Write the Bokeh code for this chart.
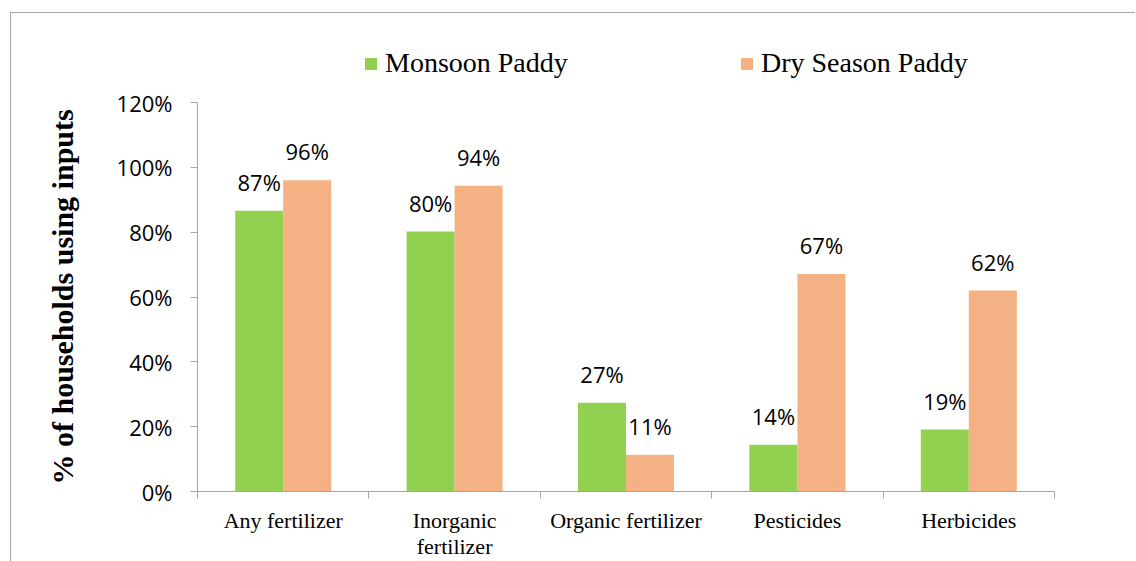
from bokeh.plotting import figure
from bokeh.models import (Range1d, FixedTicker, NumeralTickFormatter, ColumnDataSource,
                          LabelSet, Legend, LegendItem, Title)
from bokeh.core.properties import value
from bokeh.transform import dodge
from bokeh.embed import file_html
from bokeh.resources import INLINE

# ---- data ----
categories = ["Any fertilizer", "Inorganic\nfertilizer", "Organic fertilizer", "Pesticides", "Herbicides"]
monsoon = [0.866, 0.802, 0.274, 0.144, 0.191]
dry = [0.960, 0.943, 0.113, 0.671, 0.620]
monsoon_labels = ["87%", "80%", "27%", "14%", "19%"]
dry_labels = ["96%", "94%", "11%", "67%", "62%"]
series_names = ["Monsoon Paddy", "Dry Season Paddy"]
y_ticks = [0, 0.2, 0.4, 0.6, 0.8, 1.0, 1.2]
y_title = "% of households using inputs"

GREEN = "#92D050"
ORANGE = "#F4B183"
AXIS = "#a6a6a6"

# layout (pixels)
TOP = 25          # canvas top to frame top (legend lives inside the frame's top band)
AXIS_TOP = 89     # canvas y of the 120% tick
AXIS_BOTTOM = 478 # canvas y of the 0% tick
FRAME_H = AXIS_BOTTOM - TOP
y_max = y_ticks[-1] * FRAME_H / (AXIS_BOTTOM - AXIS_TOP)

n = len(categories)
centers = [i + 0.5 for i in range(n)]
bounds = list(range(n + 1))

src = ColumnDataSource(dict(x=centers, m=monsoon, d=dry, ml=monsoon_labels, dl=dry_labels))

p = figure(frame_width=857, frame_height=FRAME_H, x_range=Range1d(0, n),
           y_range=Range1d(y_ticks[0], y_max),
           output_backend="svg", toolbar_location=None,
           min_border_left=186, min_border_top=TOP, min_border_right=81, min_border_bottom=69)
p.margin = (12, 0, 0, 10)
p.styles = {"border-top": f"1px solid {AXIS}", "border-left": f"1px solid {AXIS}"}
p.outline_line_color = None
p.xgrid.visible = False
p.ygrid.visible = False
p.background_fill_color = "white"
p.border_fill_color = "white"

r1 = p.vbar(x=dodge("x", -0.14, range=p.x_range), top="m", width=0.28, source=src,
            fill_color=GREEN, line_color=None)
r2 = p.vbar(x=dodge("x", 0.14, range=p.x_range), top="d", width=0.28, source=src,
            fill_color=ORANGE, line_color=None)

lab_kw = dict(text_font=value("Open Sans"), text_font_size="22px", text_color="black",
              text_align="center", text_baseline="alphabetic", y_offset=20, source=src)
p.add_layout(LabelSet(x=dodge("x", -0.14, range=p.x_range), y="m", text="ml", **lab_kw))
p.add_layout(LabelSet(x=dodge("x", 0.14, range=p.x_range), y="d", text="dl", **lab_kw))

# x axis
xa = p.xaxis[0]
xa.ticker = FixedTicker(ticks=centers, minor_ticks=bounds)
xa.major_label_overrides = {c: lab for c, lab in zip(centers, categories)}
xa.major_tick_out = 0
xa.major_tick_in = 0
xa.minor_tick_out = 7
xa.minor_tick_in = 0
xa.minor_tick_line_color = AXIS
xa.axis_line_color = AXIS
xa.major_label_text_font = "Liberation Serif"
xa.major_label_text_font_size = "22px"
xa.major_label_text_color = "black"
xa.major_label_text_line_height = 1.05
xa.major_label_standoff = 9

# y axis
ya = p.yaxis[0]
ya.ticker = FixedTicker(ticks=y_ticks)
ya.bounds = (y_ticks[0], y_ticks[-1])
ya.formatter = NumeralTickFormatter(format="0%")
ya.major_tick_out = 7
ya.major_tick_in = 0
ya.minor_tick_line_color = None
ya.major_tick_line_color = AXIS
ya.axis_line_color = AXIS
ya.major_label_text_font = "Open Sans"
ya.major_label_text_font_size = "22px"
ya.major_label_text_color = "black"
ya.major_label_standoff = 18

# y axis title, anchored at the bottom of the axis
p.add_layout(Title(text=y_title, align="left", offset=7, vertical_align="top",
                   standoff=66, text_font="Liberation Serif", text_font_style="bold",
                   text_font_size="30px", text_color="black"), "left")

leg_kw = dict(orientation="horizontal", border_line_color=None, background_fill_alpha=0,
              padding=0, margin=0, glyph_width=15, glyph_height=15, label_standoff=7,
              label_text_font="Liberation Serif", label_text_font_size="28px",
              label_text_color="black", label_height=30)
p.add_layout(Legend(items=[LegendItem(label=series_names[0], renderers=[r1])],
                    location=(166, 412), **leg_kw))
p.add_layout(Legend(items=[LegendItem(label=series_names[1], renderers=[r2])],
                    location=(542, 412), **leg_kw))

open("out.html", "w").write(file_html(p, INLINE))
